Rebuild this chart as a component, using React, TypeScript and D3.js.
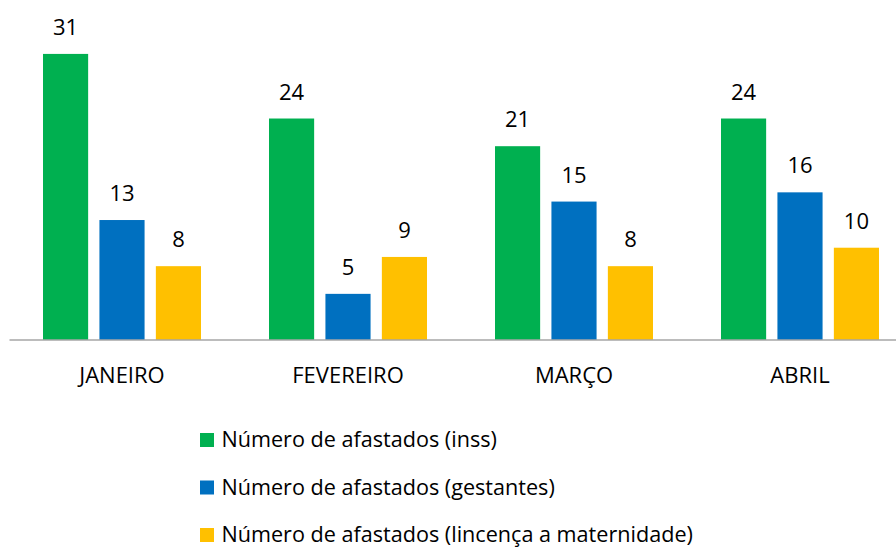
import React from "react";
import * as d3 from "d3";

const months = ["JANEIRO", "FEVEREIRO", "MARÇO", "ABRIL"];
const seriesNames = [
  "Número de afastados (inss)",
  "Número de afastados (gestantes)",
  "Número de afastados (lincença a maternidade)",
];
const inss = [31, 24, 21, 24];
const gestantes = [13, 5, 15, 16];
const maternidade = [8, 9, 8, 10];
const colors = ["#00B050", "#0070C0", "#FFC000"];

const W = 896;
const H = 547;
const FONT = "'Open Sans', sans-serif";

export default function App() {
  const seriesValues = [inss, gestantes, maternidade];
  const x0 = d3.scaleBand<string>().domain(months).range([9, 913]).padding(0);
  const x1 = d3
    .scaleBand<number>()
    .domain([0, 1, 2])
    .range([34, 192])
    .paddingInner(0.2)
    .paddingOuter(0);
  const y = d3.scaleLinear().domain([0, 35]).range([340, 17]);

  return (
    <svg
      width={W}
      height={H}
      style={{ position: "absolute", left: 0, top: 0, background: "#fff" }}
      fontFamily={FONT}
    >
      {months.map((m, i) => (
        <g key={m} transform={`translate(${x0(m)},0)`}>
          {seriesValues.map((vals, s) => (
            <g key={s}>
              <rect
                x={x1(s)}
                y={y(vals[i])}
                width={x1.bandwidth()}
                height={y(0) - y(vals[i])}
                fill={colors[s]}
              />
              <text
                x={(x1(s) as number) + x1.bandwidth() / 2}
                y={y(vals[i]) - 19}
                textAnchor="middle"
                fontSize={22}
                fill="#000"
              >
                {vals[i]}
              </text>
            </g>
          ))}
          <text
            x={x0.bandwidth() / 2}
            y={382.5}
            textAnchor="middle"
            fontSize={22}
            fill="#000"
          >
            {m}
          </text>
        </g>
      ))}
      <line x1={9.5} x2={W} y1={340} y2={340} stroke="#A6A6A6" strokeWidth={1.3} />
      {seriesNames.map((name, s) => (
        <g key={name} transform={`translate(200,${433 + s * 47.5})`}>
          <rect x={0} y={0} width={14} height={14} fill={colors[s]} />
          <text x={21.5} y={14} fontSize={21.6} fill="#000">
            {name}
          </text>
        </g>
      ))}
    </svg>
  );
}
